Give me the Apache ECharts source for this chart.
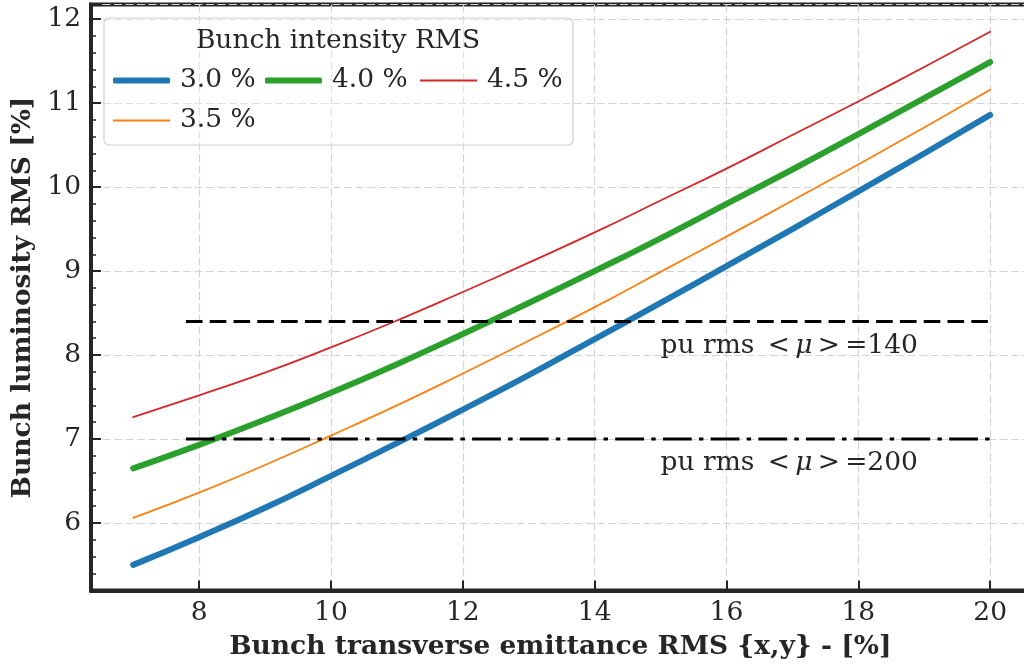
<!DOCTYPE html>
<html>
<head>
<meta charset="utf-8">
<script src="https://cdn.jsdelivr.net/npm/echarts@6/dist/echarts.min.js"></script>
<style>
  html, body { margin: 0; padding: 0; background: #ffffff; overflow: hidden; }
  #chart { width: 1040px; height: 665px; }
</style>
</head>
<body>
<div id="chart"></div>
<script>
// Bunch transverse emittance RMS {x,y} in %
const emittance = [7, 8, 9, 10, 11, 12, 13, 14, 15, 16, 17, 18, 19, 20];

// Bunch luminosity RMS in %, one list per bunch intensity RMS
const lumi30 = [5.50, 5.83, 6.18, 6.56, 6.95, 7.35, 7.76, 8.19, 8.62, 9.06, 9.50, 9.95, 10.40, 10.86];
const lumi35 = [6.06, 6.36, 6.69, 7.04, 7.40, 7.78, 8.17, 8.57, 8.99, 9.41, 9.84, 10.27, 10.71, 11.16];
const lumi40 = [6.65, 6.93, 7.23, 7.55, 7.89, 8.25, 8.62, 9.00, 9.39, 9.80, 10.21, 10.63, 11.06, 11.49];
const lumi45 = [7.26, 7.52, 7.79, 8.09, 8.41, 8.75, 9.10, 9.46, 9.84, 10.22, 10.62, 11.02, 11.43, 11.85];

// pile-up reference levels and their extent along the emittance axis
const puLevel140 = 8.4;
const puLevel200 = 7.0;
const puRange = [7.8, 20];
const puLabelPos140 = [15, 8.11];
const puLabelPos200 = [15, 6.71];

// tick labels
const xTickLabels = [8, 10, 12, 14, 16, 18, 20];
const yTickLabels = [6, 7, 8, 9, 10, 11, 12];

const FONT = '"DejaVu Serif", "Liberation Serif", serif';
const FS = 26.5;
const INK = '#262626';

function pickTick(list) {
  return function (v) {
    const r = Math.round(v);
    return (Math.abs(v - r) < 1e-6 && list.indexOf(r) >= 0) ? String(r) : '';
  };
}

function curve(name, values, color, width) {
  return {
    type: 'line',
    name: name,
    data: emittance.map((x, i) => [x, values[i]]),
    smooth: true,
    symbol: 'none',
    showSymbol: false,
    silent: true,
    z: 3,
    itemStyle: { color: color },
    lineStyle: { color: color, width: width, cap: 'round', join: 'round' }
  };
}

function level(name, y, dash) {
  return {
    type: 'line',
    name: name,
    data: [[puRange[0], y], [puRange[1], y]],
    symbol: 'none',
    showSymbol: false,
    silent: true,
    z: 4,
    lineStyle: { color: '#000000', width: 3, type: dash, cap: 'butt' }
  };
}

function note(pos, count) {
  return {
    type: 'scatter',
    name: 'note' + count,
    data: [pos],
    symbolSize: 0,
    silent: true,
    z: 5,
    label: {
      show: true,
      position: 'right',
      distance: 0,
      opacity: 1,
      formatter: 'pu rms\u2002<\u2009{mu|\u03bc}\u2009>\u2009=' + count,
      fontFamily: FONT,
      fontSize: FS,
      color: INK,
      rich: {
        mu: { fontFamily: FONT, fontStyle: 'italic', fontSize: FS, color: INK }
      }
    }
  };
}

// one legend block per entry so each key can carry its own line weight
function key(name, left, top, thickness, color) {
  return {
    data: [{ name: name, icon: thickness > 3 ? 'roundRect' : 'rect' }],
    left: left, top: top, padding: 0,
    itemWidth: 57, itemHeight: thickness, itemGap: 0,
    selectedMode: false, z: 7,
    itemStyle: { color: color, borderWidth: 0 },
    textStyle: { fontFamily: FONT, fontSize: FS, color: INK, padding: [0, 0, 0, 5] }
  };
}

const THICK = 6;
const THIN = 1.8;

const chart = echarts.init(document.getElementById('chart'), null, { renderer: 'canvas' });

chart.setOption({
  animation: false,
  backgroundColor: '#ffffff',
  grid: {
    left: 91, top: 4.5, width: 938.7, height: 586,
    containLabel: false, outerBoundsMode: 'none',
    show: true, borderColor: INK, borderWidth: 4, backgroundColor: 'transparent'
  },
  xAxis: {
    type: 'value',
    min: 6.36, max: 20.6, splitNumber: 7,
    name: 'Bunch transverse emittance RMS {x,y} - [%]',
    nameLocation: 'middle', nameGap: 43,
    nameTextStyle: { fontFamily: FONT, fontSize: FS, fontWeight: 'bold', color: INK },
    axisLine: { show: true, onZero: false, lineStyle: { color: INK, width: 4 } },
    axisTick: { show: true, inside: true, length: 10, lineStyle: { color: INK, width: 2 } },
    axisLabel: { formatter: pickTick(xTickLabels), fontFamily: FONT, fontSize: FS, color: INK, margin: 9 },
    splitLine: { show: true, lineStyle: { color: '#d4d4d4', width: 1.2, type: [8, 3.5] } }
  },
  yAxis: {
    type: 'value',
    min: 5.195, max: 12.175, splitNumber: 7,
    name: 'Bunch luminosity RMS [%]',
    nameLocation: 'middle', nameGap: 48,
    nameTextStyle: { fontFamily: FONT, fontSize: FS, fontWeight: 'bold', color: INK },
    axisLine: { show: true, onZero: false, lineStyle: { color: INK, width: 4 } },
    axisTick: { show: true, inside: true, length: 10, lineStyle: { color: INK, width: 2 } },
    minorTick: { show: true, splitNumber: 5, length: 5, lineStyle: { color: INK, width: 1.5 } },
    axisLabel: { formatter: pickTick(yTickLabels), fontFamily: FONT, fontSize: FS, color: INK, margin: 10 },
    splitLine: { show: true, lineStyle: { color: '#d4d4d4', width: 1.2, type: [8, 3.5] } }
  },
  legend: [
    key('3.0 %', 113, 67, THICK, '#1f77b4'),
    key('4.0 %', 265, 67, THICK, '#2ca02c'),
    key('4.5 %', 420, 67, THIN, '#d62728'),
    key('3.5 %', 113, 107, THIN, '#ff7f0e')
  ],
  graphic: [
    {
      type: 'rect', z: 5, silent: true,
      shape: { x: 104, y: 18, width: 469, height: 127, r: 5 },
      style: { fill: 'rgba(255,255,255,0.3)', stroke: '#d0d0d0', lineWidth: 1.2 }
    },
    {
      type: 'text', z: 6, silent: true,
      x: 338, y: 41,
      style: { text: 'Bunch intensity RMS', font: FS + 'px ' + FONT, fill: INK, align: 'center', verticalAlign: 'middle' }
    }
  ],
  series: [
    curve('3.0 %', lumi30, '#1f77b4', THICK),
    curve('3.5 %', lumi35, '#ff7f0e', THIN),
    curve('4.0 %', lumi40, '#2ca02c', THICK),
    curve('4.5 %', lumi45, '#d62728', THIN),
    level('pu140', puLevel140, [16.6, 7.2]),
    level('pu200', puLevel200, [28.8, 7.2, 4.5, 7.2]),
    note(puLabelPos140, 140),
    note(puLabelPos200, 200)
  ]
});
</script>
</body>
</html>
